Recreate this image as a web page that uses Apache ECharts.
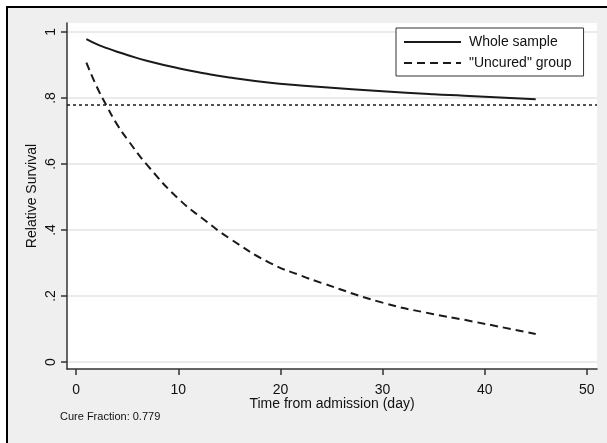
<!DOCTYPE html>
<html>
<head>
<meta charset="utf-8">
<script src="https://cdn.jsdelivr.net/npm/echarts@6/dist/echarts.min.js"></script>
<style>
  html, body { margin: 0; padding: 0; background: #fff; }
  #chart { width: 607px; height: 443px; }
</style>
</head>
<body>
<div id="chart"></div>
<script>
// time points (days)
const days = [1, 2, 3, 4, 5, 7, 10, 12.5, 15, 19, 22, 24, 30, 35, 38, 45];
// relative survival, whole sample
const wholeSample = [0.978, 0.963, 0.951, 0.940, 0.930, 0.912, 0.890, 0.875, 0.862, 0.846, 0.838, 0.833, 0.820, 0.811, 0.807, 0.796];
// relative survival, "uncured" group
const uncured = [0.907, 0.835, 0.775, 0.72, 0.675, 0.595, 0.495, 0.432, 0.375, 0.300, 0.262, 0.24, 0.18, 0.145, 0.128, 0.085];
const cureFraction = 0.779;
const xTicks = [0, 10, 20, 30, 40, 50];
const yTicks = [0, 0.2, 0.4, 0.6, 0.8, 1];

const font = 'Liberation Sans, Arial, sans-serif';
const ink = '#1a1a1a';

const chart = echarts.init(document.getElementById('chart'));

const toPairs = (vals) => days.map((d, i) => [d, vals[i]]);

const option = {
  animation: false,
  backgroundColor: '#ffffff',
  graphic: [
    {
      type: 'rect',
      z: -10,
      shape: { x: 7, y: 7, width: 640, height: 480 },
      style: { fill: '#efefef', stroke: '#000', lineWidth: 2 }
    },
    {
      type: 'text',
      left: 60,
      top: 411,
      style: { text: 'Cure Fraction: ' + cureFraction, font: '11px ' + font, fill: '#111' }
    }
  ],
  grid: {
    left: 67, top: 23, width: 530, height: 346,
    show: true, backgroundColor: '#ffffff', borderWidth: 0
  },
  legend: {
    orient: 'vertical',
    left: 396, top: 28,
    backgroundColor: '#ffffff',
    borderColor: '#333',
    borderWidth: 1,
    padding: [7, 12, 6, 7],
    itemWidth: 57, itemHeight: 14, itemGap: 7,
    itemStyle: { opacity: 0 },
    textStyle: { fontFamily: font, fontSize: 14, color: '#111', padding: [0, 0, 0, 3] },
    data: ['Whole sample', '"Uncured" group']
  },
  xAxis: {
    type: 'value',
    min: -0.9, max: 51,
    name: 'Time from admission (day)',
    nameLocation: 'middle',
    nameGap: 28,
    nameMoveOverlap: false,
    nameTextStyle: { fontFamily: font, fontSize: 14, color: '#111' },
    axisLine: { show: true, onZero: false, lineStyle: { color: '#333', width: 1.5 } },
    axisTick: { show: true, length: 6, customValues: xTicks, lineStyle: { color: '#333', width: 1.5 } },
    axisLabel: { customValues: xTicks, fontFamily: font, fontSize: 14, color: '#111', margin: 14 },
    splitLine: { show: false }
  },
  yAxis: {
    type: 'value',
    min: -0.021, max: 1.027,
    name: 'Relative Survival',
    nameLocation: 'middle',
    nameGap: 28,
    nameMoveOverlap: false,
    nameRotate: 90,
    nameTextStyle: { fontFamily: font, fontSize: 14, color: '#111' },
    axisLine: { show: true, onZero: false, lineStyle: { color: '#333', width: 1.5 } },
    axisTick: { show: true, length: 6, customValues: yTicks, lineStyle: { color: '#333', width: 1.5 } },
    axisLabel: {
      customValues: yTicks,
      rotate: 90,
      fontFamily: font, fontSize: 14, color: '#111', margin: 9,
      formatter: (v) => (v === 0 || v === 1) ? String(v) : String(+v.toFixed(1)).replace(/^0/, '')
    },
    splitLine: { show: true, customValues: yTicks, lineStyle: { color: '#e4e4e4', width: 1.5 } }
  },
  series: [
    {
      name: 'Whole sample',
      type: 'line',
      smooth: 0.5,
      symbol: 'none',
      data: toPairs(wholeSample),
      lineStyle: { color: ink, width: 2, type: 'solid' },
      itemStyle: { color: ink },
      markLine: {
        silent: true,
        symbol: 'none',
        label: { show: false },
        lineStyle: { color: ink, width: 1.5, type: [3, 3] },
        data: [{ yAxis: cureFraction }]
      }
    },
    {
      name: '"Uncured" group',
      type: 'line',
      smooth: 0.5,
      symbol: 'none',
      data: toPairs(uncured),
      lineStyle: { color: ink, width: 2, type: [8, 5] },
      itemStyle: { color: ink }
    }
  ]
};

chart.setOption(option);
</script>
</body>
</html>
